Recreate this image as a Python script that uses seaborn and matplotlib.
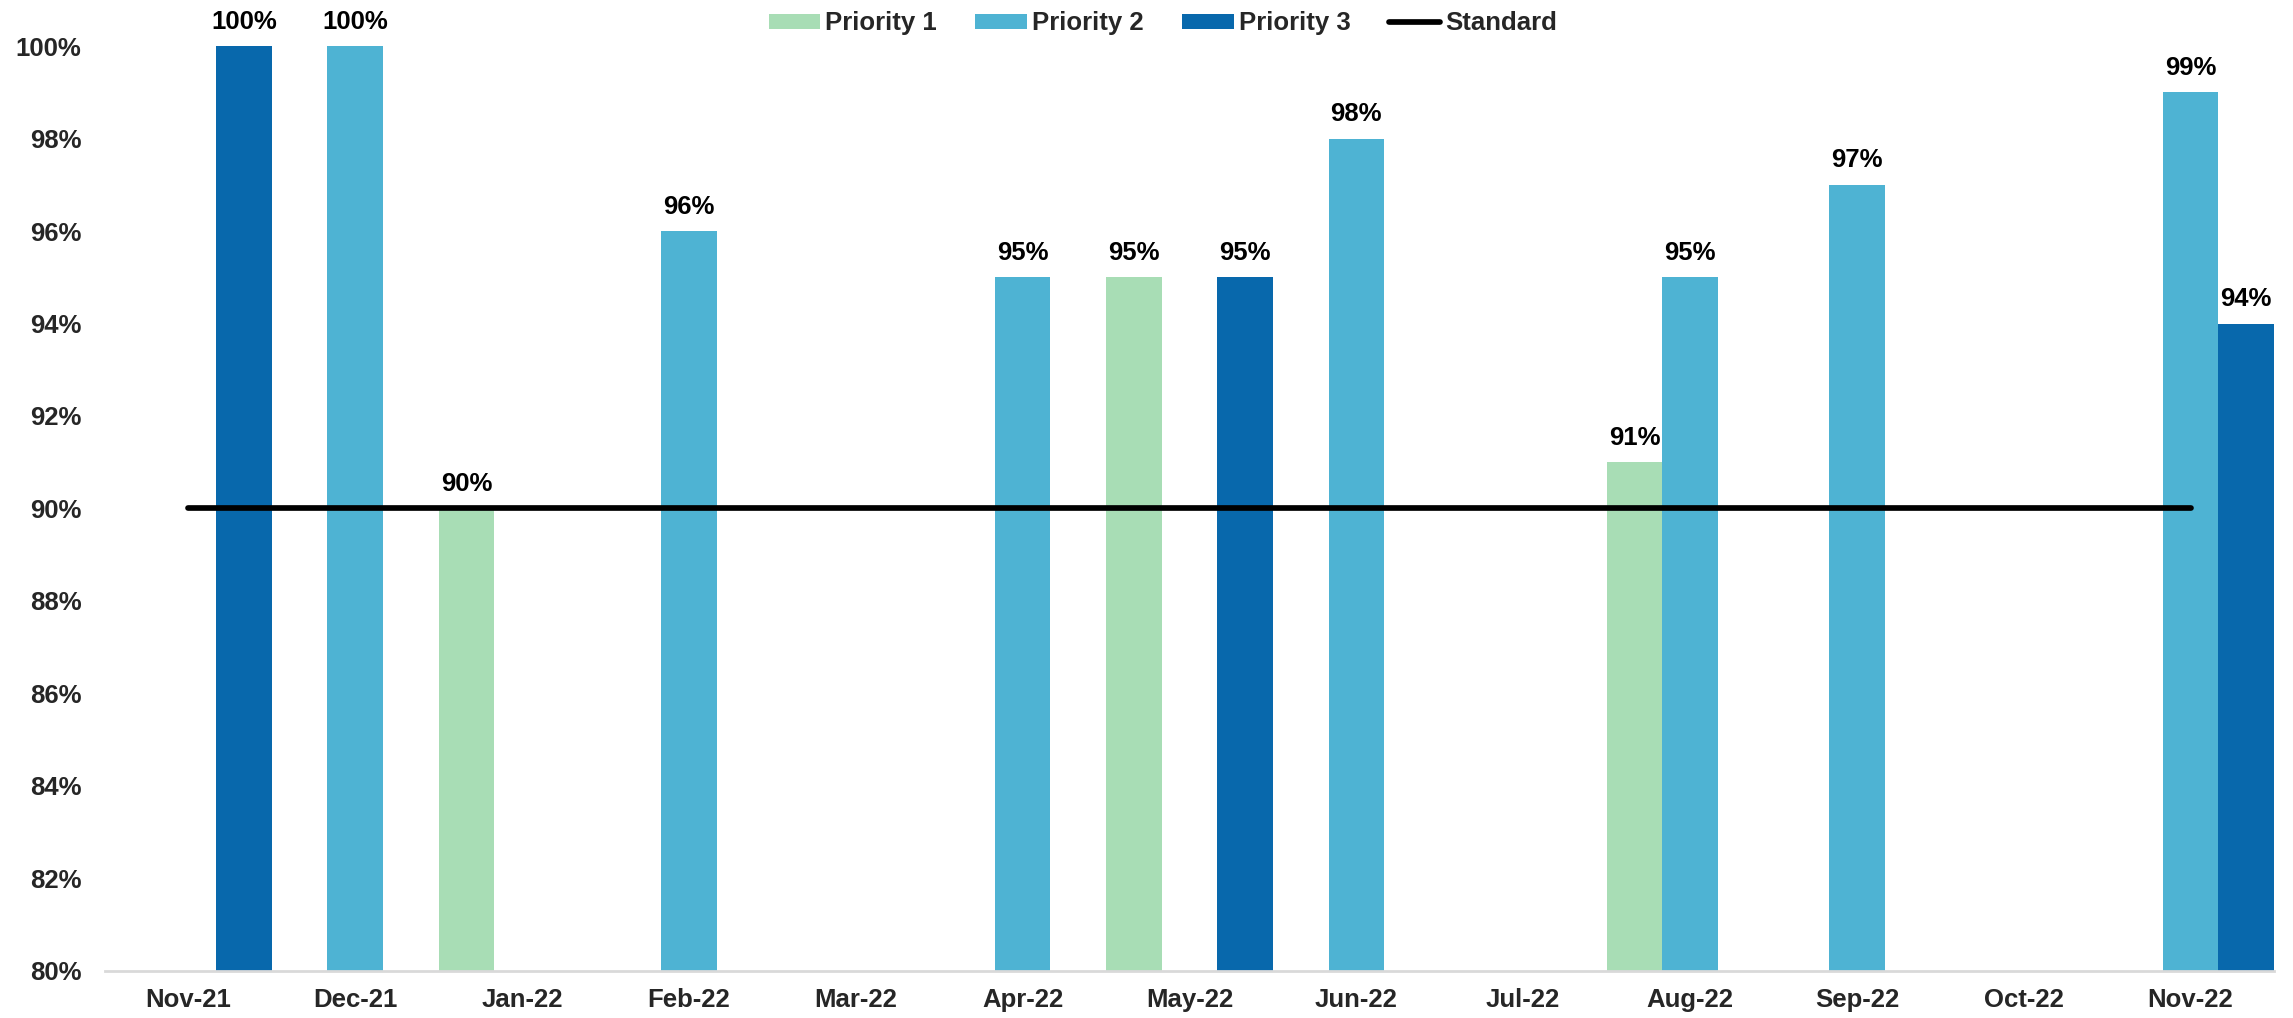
import numpy as np
import pandas as pd
import matplotlib
matplotlib.use("Agg")
import matplotlib.pyplot as plt
import seaborn as sns
from matplotlib.ticker import FuncFormatter, FixedLocator

months = ["Nov-21", "Dec-21", "Jan-22", "Feb-22", "Mar-22", "Apr-22", "May-22",
          "Jun-22", "Jul-22", "Aug-22", "Sep-22", "Oct-22", "Nov-22"]
priority_1 = [np.nan, np.nan, 90, np.nan, np.nan, np.nan, 95, np.nan, np.nan, 91, np.nan, np.nan, np.nan]
priority_2 = [np.nan, 100, np.nan, 96, np.nan, 95, np.nan, 98, np.nan, 95, 97, np.nan, 99]
priority_3 = [100, np.nan, np.nan, np.nan, np.nan, np.nan, 95, np.nan, np.nan, np.nan, np.nan, np.nan, 94]
standard = [90] * 13
series_names = ["Priority 1", "Priority 2", "Priority 3"]
colors = ["#A8DDB5", "#4EB3D3", "#0868AC"]

sns.set_theme(style="white")
plt.rcParams['font.family'] = ['Liberation Sans', 'DejaVu Sans']
plt.rcParams['font.weight'] = 'bold'
FS = 18.5

rows = []
for name, vals in zip(series_names, [priority_1, priority_2, priority_3]):
    for m, v in zip(months, vals):
        rows.append({"Month": m, "Series": name, "Value": v})
df = pd.DataFrame(rows).dropna()

fig = plt.figure(figsize=(22.93, 10.18), dpi=100)
ax = fig.add_axes([0.0458, 0.0462, 0.9459, 0.9086])

sns.barplot(data=df, x="Month", y="Value", hue="Series", order=months,
            hue_order=series_names, palette=colors, width=1.0, gap=0,
            dodge=True, saturation=1, linewidth=0, edgecolor="none",
            ax=ax, legend=True, errorbar=None)

sns.lineplot(x=np.arange(len(months)), y=standard, color="black", linewidth=4.1,
             ax=ax, label="Standard", solid_capstyle="round")

for c in ax.containers:
    ax.bar_label(c, fmt="%.0f%%", padding=9, fontsize=FS, fontweight="bold", color="black")

ax.set_ylim(80, 100)
ax.set_xlim(-0.5, len(months) - 0.5)
ax.set_yticks(np.arange(80, 101, 2))
ax.yaxis.set_major_formatter(FuncFormatter(lambda v, p: f"{v:.0f}%"))
ax.set_xlabel("")
ax.set_ylabel("")

ax.tick_params(axis="y", length=0, pad=17, labelsize=FS)
ax.tick_params(axis="x", which="major", length=0, pad=12, labelsize=FS)
ax.xaxis.set_minor_locator(FixedLocator(np.arange(-0.5, len(months), 1.0)))
ax.tick_params(axis="x", which="minor", length=6.5, width=2, color="#D9D9D9", direction="out")
for lab in ax.get_xticklabels() + ax.get_yticklabels():
    lab.set_fontweight("bold")

for s in ["top", "right", "left"]:
    ax.spines[s].set_visible(False)
ax.spines["bottom"].set_color("#D9D9D9")
ax.spines["bottom"].set_linewidth(2)
ax.set_facecolor("white")

handles, labels = ax.get_legend_handles_labels()
ax.legend(handles, labels, ncol=4, loc="center", bbox_to_anchor=(0.5072, 0.977),
          bbox_transform=fig.transFigure, frameon=False,
          handlelength=2.0, handleheight=0.55, handletextpad=0.2, columnspacing=1.5,
          prop={"weight": "bold", "size": FS})

fig.savefig("out.png", dpi=100, facecolor="white")
